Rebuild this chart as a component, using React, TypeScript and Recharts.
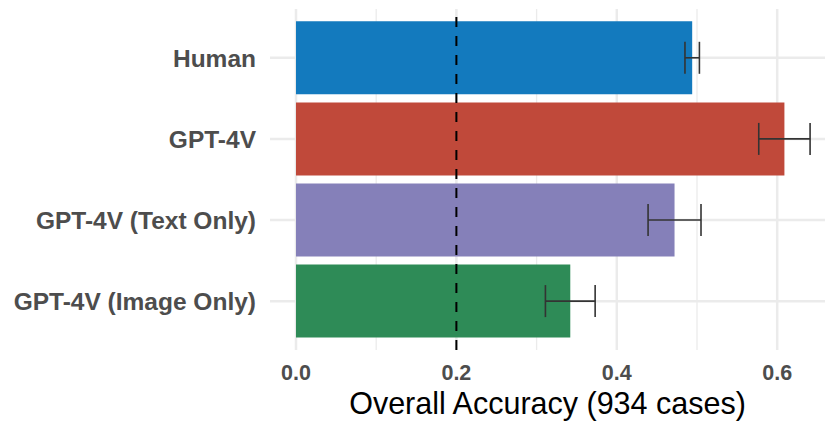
import { BarChart, Bar, Cell, XAxis, YAxis, CartesianGrid, ReferenceLine, ErrorBar } from 'recharts'

const models = ['Human', 'GPT-4V', 'GPT-4V (Text Only)', 'GPT-4V (Image Only)']
const accuracy = [0.494, 0.609, 0.472, 0.342]
const errors = [0.009, 0.032, 0.033, 0.031]
const colors = ['#137ABE', '#C0493A', '#8580B9', '#2E8B57']
const xTicks = [0, 0.2, 0.4, 0.6]
const minorTicks = [0.1, 0.3, 0.5]
const chanceLevel = 0.2

const data = models.map((name, i) => ({ name, value: accuracy[i], err: errors[i] }))

const App = () => {
  return (
    <div style={{ position: 'absolute', left: 0, top: 0, background: '#fff' }}>
      <BarChart
        width={825}
        height={423}
        data={data}
        layout="vertical"
        margin={{ top: 9, right: 0, bottom: 0, left: 0 }}
        style={{ fontFamily: '"Liberation Sans", Arial, sans-serif' }}
      >
        {/* minor x grid, thinner */}
        <CartesianGrid
          horizontal={false}
          verticalValues={minorTicks}
          syncWithTicks
          stroke="#EBEBEB"
          strokeWidth={1.3}
        />
        <CartesianGrid syncWithTicks stroke="#EBEBEB" strokeWidth={2.5} />
        <XAxis
          type="number"
          domain={[-0.0324, 0.6596]}
          allowDataOverflow
          ticks={xTicks}
          tickFormatter={(v: number) => v.toFixed(1)}
          axisLine={false}
          tickLine={false}
          tickSize={0}
          tickMargin={15}
          height={73}
          tick={{ fill: '#4D4D4D', fontSize: 21.5, fontWeight: 'bold' }}
          label={{
            value: 'Overall Accuracy (934 cases)',
            position: 'insideBottom',
            offset: 9,
            fill: '#000',
            fontSize: 30.5,
          }}
        />
        <YAxis
          type="category"
          dataKey="name"
          width={270}
          axisLine={false}
          tickLine={false}
          tickSize={0}
          tickMargin={14}
          padding={{ top: 8.3, bottom: 8.3 }}
          tick={{ fill: '#4D4D4D', fontSize: 24.5, fontWeight: 'bold' }}
          interval={0}
        />
        <Bar dataKey="value" barSize={73} isAnimationActive={false}>
          {data.map((d, i) => (
            <Cell key={d.name} fill={colors[i]} />
          ))}
          <ErrorBar dataKey="err" direction="x" width={16} stroke="#333" strokeWidth={1.6} />
        </Bar>
        <ReferenceLine x={chanceLevel} stroke="#000" strokeWidth={2} strokeDasharray="10 9" />
      </BarChart>
    </div>
  )
}

export default App
